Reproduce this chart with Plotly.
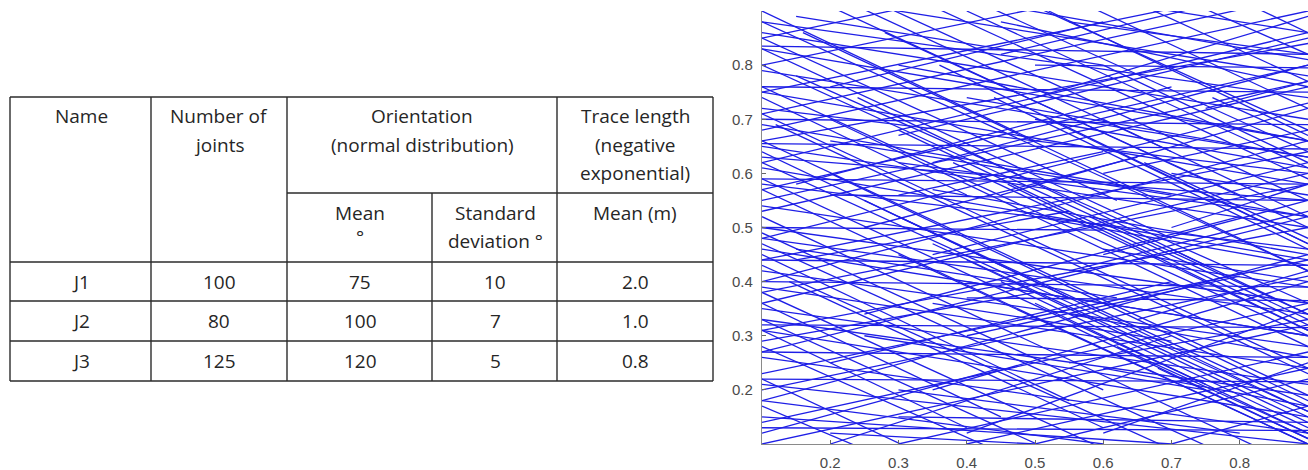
import plotly.graph_objects as go

# ---------------- table data ----------------
names = ["J1", "J2", "J3"]
num_joints = [100, 80, 125]
orient_mean = [75, 100, 120]
orient_sd = [10, 7, 5]
trace_mean = [2.0, 1.0, 0.8]

# ---------------- joint traces (x0, y0, x1, y1) ----------------
j3_segments = [
    (0.10, 0.88, 0.90, 0.42), (0.10, 0.85, 0.62, 0.55), (0.10, 0.80, 0.90, 0.34),
    (0.10, 0.76, 0.90, 0.30), (0.10, 0.71, 0.90, 0.24), (0.10, 0.66, 0.90, 0.19),
    (0.10, 0.62, 0.90, 0.16), (0.10, 0.57, 0.90, 0.10), (0.10, 0.52, 0.85, 0.08),
    (0.10, 0.47, 0.78, 0.08), (0.10, 0.43, 0.70, 0.09), (0.10, 0.38, 0.62, 0.08),
    (0.10, 0.33, 0.52, 0.09), (0.10, 0.28, 0.44, 0.09), (0.10, 0.22, 0.32, 0.09),
    (0.10, 0.17, 0.25, 0.09), (0.18, 0.92, 0.90, 0.50), (0.26, 0.92, 0.90, 0.55),
    (0.33, 0.92, 0.90, 0.59), (0.41, 0.92, 0.90, 0.64), (0.48, 0.92, 0.90, 0.68),
    (0.56, 0.92, 0.90, 0.72), (0.64, 0.92, 0.90, 0.77), (0.72, 0.92, 0.90, 0.82),
    (0.80, 0.92, 0.90, 0.86), (0.22, 0.92, 0.70, 0.64), (0.15, 0.78, 0.90, 0.36),
    (0.12, 0.69, 0.90, 0.23), (0.20, 0.60, 0.90, 0.18), (0.25, 0.55, 0.90, 0.16),
    (0.30, 0.52, 0.90, 0.17), (0.35, 0.47, 0.90, 0.15), (0.40, 0.44, 0.90, 0.14),
    (0.45, 0.40, 0.90, 0.13), (0.50, 0.36, 0.90, 0.12), (0.55, 0.32, 0.90, 0.11),
    (0.62, 0.28, 0.90, 0.12), (0.68, 0.24, 0.90, 0.11), (0.36, 0.80, 0.90, 0.47),
    (0.44, 0.74, 0.90, 0.46), (0.52, 0.70, 0.90, 0.47), (0.28, 0.86, 0.80, 0.56),
    (0.10, 0.64, 0.55, 0.37), (0.10, 0.49, 0.60, 0.20), (0.30, 0.68, 0.90, 0.32),
    (0.38, 0.62, 0.90, 0.31), (0.46, 0.58, 0.90, 0.31), (0.58, 0.52, 0.90, 0.33),
    (0.66, 0.62, 0.90, 0.48), (0.70, 0.46, 0.90, 0.34), (0.14, 0.40, 0.60, 0.13),
    (0.10, 0.36, 0.45, 0.15), (0.24, 0.74, 0.75, 0.43), (0.60, 0.80, 0.90, 0.62),
    (0.76, 0.74, 0.90, 0.66), (0.10, 0.90, 0.50, 0.66), (0.10, 0.83, 0.70, 0.48),
    (0.16, 0.86, 0.90, 0.42), (0.10, 0.74, 0.40, 0.56), (0.20, 0.70, 0.90, 0.28),
    (0.10, 0.59, 0.75, 0.21), (0.10, 0.45, 0.55, 0.18), (0.40, 0.90, 0.90, 0.61),
    (0.30, 0.45, 0.90, 0.10), (0.60, 0.70, 0.90, 0.52), (0.10, 0.31, 0.40, 0.13),
    (0.52, 0.90, 0.90, 0.67),
]

j2_segments = [
    (0.10, 0.86, 0.90, 0.70), (0.10, 0.83, 0.90, 0.66), (0.10, 0.79, 0.90, 0.63),
    (0.10, 0.75, 0.90, 0.58), (0.10, 0.72, 0.90, 0.60), (0.10, 0.69, 0.90, 0.52),
    (0.10, 0.65, 0.90, 0.50), (0.10, 0.61, 0.90, 0.44), (0.10, 0.58, 0.90, 0.46),
    (0.10, 0.54, 0.90, 0.39), (0.10, 0.50, 0.90, 0.36), (0.10, 0.46, 0.90, 0.30),
    (0.10, 0.42, 0.90, 0.28), (0.10, 0.39, 0.90, 0.24), (0.10, 0.35, 0.90, 0.21),
    (0.10, 0.31, 0.90, 0.15), (0.10, 0.26, 0.90, 0.12), (0.10, 0.21, 0.90, 0.10),
    (0.10, 0.15, 0.70, 0.10), (0.25, 0.91, 0.90, 0.78), (0.45, 0.91, 0.90, 0.81),
    (0.65, 0.91, 0.90, 0.86), (0.30, 0.80, 0.90, 0.66), (0.40, 0.74, 0.90, 0.63),
    (0.20, 0.66, 0.70, 0.56), (0.35, 0.57, 0.90, 0.45), (0.50, 0.52, 0.90, 0.43),
    (0.15, 0.46, 0.62, 0.37), (0.40, 0.40, 0.90, 0.30), (0.55, 0.34, 0.90, 0.26),
    (0.25, 0.30, 0.75, 0.20), (0.60, 0.24, 0.90, 0.17), (0.30, 0.20, 0.80, 0.12),
    (0.70, 0.60, 0.90, 0.56), (0.15, 0.89, 0.60, 0.80), (0.50, 0.70, 0.90, 0.61),
    (0.20, 0.12, 0.50, 0.10), (0.45, 0.88, 0.90, 0.76), (0.35, 0.36, 0.70, 0.29),
    (0.60, 0.46, 0.90, 0.40), (0.10, 0.835, 0.90, 0.82), (0.10, 0.76, 0.90, 0.75),
    (0.10, 0.70, 0.90, 0.69), (0.10, 0.655, 0.90, 0.645), (0.10, 0.50, 0.60, 0.495),
    (0.10, 0.44, 0.90, 0.43), (0.10, 0.27, 0.90, 0.26), (0.40, 0.37, 0.90, 0.365),
    (0.10, 0.22, 0.90, 0.215), (0.10, 0.59, 0.90, 0.58), (0.30, 0.15, 0.90, 0.14),
    (0.50, 0.80, 0.90, 0.795), (0.10, 0.13, 0.90, 0.125), (0.20, 0.56, 0.90, 0.55),
    (0.10, 0.88, 0.90, 0.74), (0.10, 0.63, 0.90, 0.55), (0.10, 0.48, 0.90, 0.34),
    (0.10, 0.33, 0.90, 0.19), (0.10, 0.18, 0.60, 0.10), (0.30, 0.62, 0.90, 0.52),
    (0.55, 0.88, 0.90, 0.82), (0.10, 0.40, 0.90, 0.39), (0.10, 0.32, 0.90, 0.315),
]

j1_segments = [
    (0.10, 0.10, 0.90, 0.32), (0.10, 0.14, 0.90, 0.36), (0.10, 0.18, 0.90, 0.45),
    (0.10, 0.23, 0.90, 0.44), (0.10, 0.27, 0.90, 0.52), (0.10, 0.31, 0.90, 0.50),
    (0.10, 0.36, 0.90, 0.60), (0.10, 0.40, 0.90, 0.66), (0.10, 0.44, 0.90, 0.64),
    (0.10, 0.48, 0.90, 0.73), (0.10, 0.53, 0.90, 0.76), (0.10, 0.57, 0.90, 0.80),
    (0.10, 0.62, 0.90, 0.86), (0.10, 0.66, 0.90, 0.84), (0.10, 0.71, 0.90, 0.93),
    (0.10, 0.75, 0.80, 0.93), (0.10, 0.80, 0.60, 0.93), (0.10, 0.85, 0.40, 0.93),
    (0.30, 0.10, 0.90, 0.27), (0.50, 0.10, 0.90, 0.22), (0.70, 0.10, 0.90, 0.17),
    (0.20, 0.10, 0.70, 0.30), (0.40, 0.12, 0.90, 0.35), (0.60, 0.12, 0.90, 0.25),
    (0.25, 0.34, 0.80, 0.52), (0.35, 0.45, 0.90, 0.62), (0.45, 0.56, 0.90, 0.72),
    (0.15, 0.58, 0.70, 0.76), (0.30, 0.67, 0.90, 0.85), (0.50, 0.74, 0.90, 0.89),
    (0.20, 0.76, 0.60, 0.88), (0.55, 0.42, 0.90, 0.53), (0.40, 0.30, 0.80, 0.41),
    (0.65, 0.33, 0.90, 0.42), (0.25, 0.50, 0.65, 0.63), (0.10, 0.12, 0.45, 0.24),
    (0.60, 0.60, 0.90, 0.68), (0.35, 0.20, 0.90, 0.40), (0.70, 0.50, 0.90, 0.58),
    (0.15, 0.44, 0.55, 0.53), (0.45, 0.82, 0.75, 0.91), (0.10, 0.29, 0.50, 0.38),
    (0.55, 0.25, 0.90, 0.33), (0.30, 0.56, 0.60, 0.64), (0.75, 0.72, 0.90, 0.77),
    (0.10, 0.20, 0.90, 0.41), (0.10, 0.38, 0.90, 0.58), (0.10, 0.55, 0.90, 0.77),
    (0.10, 0.68, 0.90, 0.90), (0.40, 0.10, 0.90, 0.24), (0.35, 0.62, 0.90, 0.80),
    (0.20, 0.25, 0.70, 0.40), (0.60, 0.45, 0.90, 0.55),
]

x_ticks = [0.2, 0.3, 0.4, 0.5, 0.6, 0.7, 0.8]
y_ticks = [0.2, 0.3, 0.4, 0.5, 0.6, 0.7, 0.8]

W, H = 1308, 470
LINE_COLOR = "rgb(30,30,230)"

fig = go.Figure()

for name, segs in (("J1", j1_segments), ("J2", j2_segments), ("J3", j3_segments)):
    xs, ys = [], []
    for x0, y0, x1, y1 in segs:
        xs += [x0, x1, None]
        ys += [y0, y1, None]
    fig.add_trace(go.Scatter(
        x=xs, y=ys, mode="lines", name=name,
        line=dict(color=LINE_COLOR, width=1.3),
        hoverinfo="skip", showlegend=False,
    ))

# ---------- table drawn with shapes + annotations ----------
def px(x):
    return x / W

def py(y):
    return 1 - y / H

border = dict(color="#2b2b2b", width=1.4)

shapes = []
for y in (97, 262, 301, 341, 381):
    shapes.append(dict(type="line", xref="paper", yref="paper",
                       x0=px(10), x1=px(713), y0=py(y), y1=py(y), line=border))
shapes.append(dict(type="line", xref="paper", yref="paper",
                   x0=px(287), x1=px(713), y0=py(193), y1=py(193), line=border))
for x in (10, 151, 287, 557, 713):
    shapes.append(dict(type="line", xref="paper", yref="paper",
                       x0=px(x), x1=px(x), y0=py(97), y1=py(381), line=border))
shapes.append(dict(type="line", xref="paper", yref="paper",
                   x0=px(432), x1=px(432), y0=py(193), y1=py(381), line=border))

TFONT = dict(family="'Open Sans', Lato, sans-serif", size=19, color="#262626")
annotations = []

def txt(x, y, s):
    annotations.append(dict(text=s, x=px(x), y=py(y), xref="paper", yref="paper",
                            xanchor="center", yanchor="middle", showarrow=False,
                            font=TFONT))

txt(81, 116, "Name")
txt(219, 116, "Number of")
txt(219, 145, "joints")
txt(422, 116, "Orientation")
txt(422, 145, "(normal distribution)")
txt(635, 116, "Trace length")
txt(635, 145, "(negative")
txt(635, 173, "exponential)")
txt(360, 213, "Mean")
txt(360, 237, "°")
txt(495, 213, "Standard")
txt(495, 241, "deviation °")
txt(635, 213, "Mean (m)")

row_centers = [282, 321, 361]
for i, yc in enumerate(row_centers):
    txt(81, yc, names[i])
    txt(219, yc, str(num_joints[i]))
    txt(360, yc, str(orient_mean[i]))
    txt(495, yc, str(orient_sd[i]))
    txt(635, yc, f"{trace_mean[i]:.1f}")

AX_FONT = dict(family="'Liberation Sans', Arial, sans-serif", size=15, color="#4a4a4a")

fig.update_layout(
    width=W, height=H,
    margin=dict(l=0, r=0, t=0, b=0),
    paper_bgcolor="white", plot_bgcolor="white",
    shapes=shapes, annotations=annotations,
    xaxis=dict(domain=[762 / W, 1.0], range=[0.1, 0.9], tickvals=x_ticks,
               ticktext=[f"{v:.1f}" for v in x_ticks],
               showgrid=False, zeroline=False, showline=True, linecolor="#8a8a8a",
               linewidth=1.2, ticks="inside", ticklen=4, tickcolor="#666",
               tickfont=AX_FONT, ticklabelstandoff=5),
    yaxis=dict(domain=[1 - 444 / H, 1 - 11 / H], range=[0.1, 0.9], tickvals=y_ticks,
               ticktext=[f"{v:.1f}" for v in y_ticks],
               showgrid=False, zeroline=False, showline=True, linecolor="#8a8a8a",
               linewidth=1.2, ticks="inside", ticklen=4, tickcolor="#666",
               tickfont=AX_FONT, ticklabelstandoff=5),
)

fig.write_html("out.html")
